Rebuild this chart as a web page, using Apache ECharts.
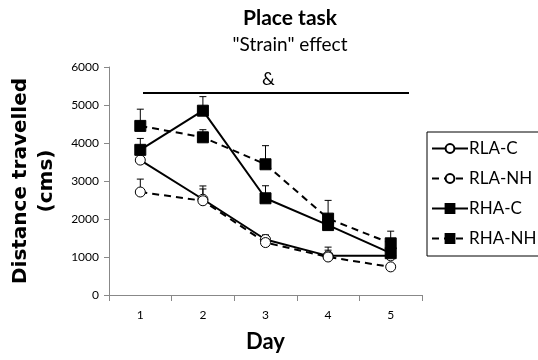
<!DOCTYPE html>
<html><head><meta charset="utf-8">
<script src="https://cdn.jsdelivr.net/npm/echarts@6/dist/echarts.min.js"></script>
<style>html,body{margin:0;padding:0;background:#fff}#c{width:538px;height:360px}</style>
</head><body><div id="c"></div>
<script>
var days = ['1','2','3','4','5'];
var seriesNames = ['RLA-C','RLA-NH','RHA-C','RHA-NH'];
var rlaC  = [3550, 2520, 1460, 1030, 1030];
var rlaNH = [2710, 2480, 1380, 1000, 740];
var rhaC  = [3820, 4850, 2545, 1840, 1100];
var rhaNH = [4450, 4150, 3440, 2010, 1360];
var errRlaC  = [150, 350, 110, 150, 60];
var errRlaNH = [340, 310, 200, 260, 80];
var errRhaC  = [300, 370, 330, 250, 200];
var errRhaNH = [440, 200, 490, 480, 320];
var yTicks = [0, 1000, 2000, 3000, 4000, 5000, 6000];

var FONT = 'Lato';
function errSeries(vals, errs){
  var data = vals.map(function(v,i){ return [i, v, v+errs[i]]; });
  return {
    type:'custom', silent:true, z:1,
    data:data,
    renderItem:function(params, api){
      var x = api.value(0);
      var p0 = api.coord([x, api.value(1)]);
      var p1 = api.coord([x, api.value(2)]);
      return {type:'group', children:[
        {type:'line', shape:{x1:p0[0],y1:p0[1],x2:p1[0],y2:p1[1]}, style:{stroke:'#000',lineWidth:1}},
        {type:'line', shape:{x1:p1[0]-3.5,y1:p1[1],x2:p1[0]+3.5,y2:p1[1]}, style:{stroke:'#000',lineWidth:1}}
      ]};
    }
  };
}
function lineSeries(name, vals, dashed, symbol){
  return {
    name:name, type:'line', data:vals, z:3,
    symbol:symbol, symbolSize: symbol==='circle'?10:11,
    lineStyle:{color:'#000', width:2, type: dashed?[7,5]:'solid'},
    itemStyle:{color: symbol==='circle'?'#fff':'#000', borderColor:'#000', borderWidth: 1},
    emphasis:{disabled:true}
  };
}
var chart = echarts.init(document.getElementById('c'), null, {renderer:'canvas'});
chart.setOption({
  animation:false,
  backgroundColor:'#fff',
  title:{
    text:'Place task', subtext:'"Strain" effect',
    left:285, top:3, textAlign:'center', itemGap:6,
    textStyle:{fontFamily:FONT, fontWeight:'bold', fontSize:21, color:'#000'},
    subtextStyle:{fontFamily:FONT, fontSize:19, color:'#000'}
  },
  grid:{left:109, right:116, top:67, bottom:65, containLabel:false, outerBoundsMode:'none'},
  legend:{
    orient:'vertical', left:427, top:132,
    data:seriesNames,
    itemWidth:36, itemHeight:11, itemGap:13,
    padding:[8,30,9,4],
    borderColor:'#000', borderWidth:1,
    textStyle:{fontFamily:FONT, fontSize:17, color:'#000', padding:[0,0,0,-4]}
  },
  xAxis:{
    type:'category', data:days, boundaryGap:true,
    name:'Day', nameLocation:'middle', nameGap:36,
    nameTextStyle:{fontFamily:FONT, fontWeight:'bold', fontSize:22, color:'#000'},
    axisLine:{lineStyle:{color:'#888'}},
    axisTick:{show:true, length:6, lineStyle:{color:'#888'}},
    axisLabel:{fontFamily:FONT, fontSize:12, color:'#000', margin:14}
  },
  yAxis:{
    type:'value', min:yTicks[0], max:yTicks[yTicks.length-1], interval:1000,
    name:'Distance travelled\n(cms)', nameLocation:'middle', nameGap:34, nameRotate:90,
    nameTextStyle:{fontFamily:'DejaVu Sans', fontWeight:'bold', fontSize:20, color:'#000', lineHeight:26},
    axisLine:{show:true, lineStyle:{color:'#888'}},
    axisTick:{show:true, length:5, lineStyle:{color:'#888'}},
    axisLabel:{fontFamily:FONT, fontSize:12, color:'#000', margin:10, formatter:function(v){return String(v);}},
    splitLine:{show:false}
  },
  graphic:[
    {type:'line', shape:{x1:143,y1:93,x2:409,y2:93}, style:{stroke:'#000', lineWidth:2}},
    {type:'text', left:262, top:70, style:{text:'&', fontFamily:FONT, fontSize:18, fill:'#000'}}
  ],
  series:[
    errSeries(rlaC, errRlaC), errSeries(rlaNH, errRlaNH),
    errSeries(rhaC, errRhaC), errSeries(rhaNH, errRhaNH),
    lineSeries('RLA-C', rlaC, false, 'circle'),
    lineSeries('RLA-NH', rlaNH, true, 'circle'),
    lineSeries('RHA-C', rhaC, false, 'rect'),
    lineSeries('RHA-NH', rhaNH, true, 'rect')
  ]
});
</script></body></html>
